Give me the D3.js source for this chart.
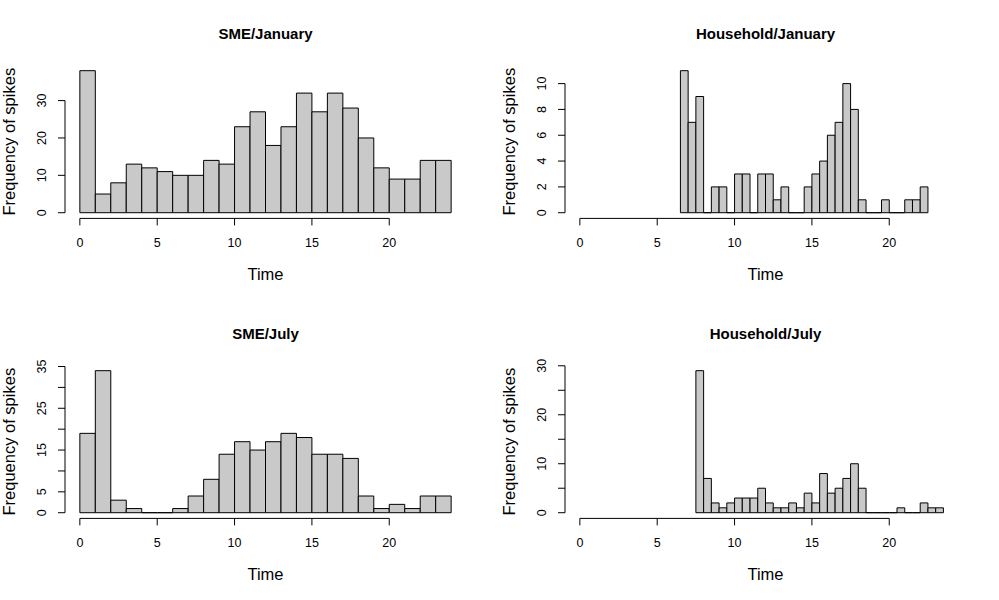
<!DOCTYPE html>
<html>
<head>
<meta charset="utf-8">
<title>Frequency of spikes</title>
<script src="https://cdn.jsdelivr.net/npm/d3@7"></script>
<style>
  body { margin: 0; background: #fff; }
  text { font-family: "Liberation Sans", Arial, Helvetica, sans-serif; fill: #000; }
</style>
</head>
<body>
<div id="chart"></div>
<script>
// counts per bin
var smeJan = [38, 5, 8, 13, 12, 11, 10, 10, 14, 13, 23, 27, 18, 23, 32, 27, 32, 28, 20, 12, 9, 9, 14, 14];
var smeJul = [19, 34, 3, 1, 0, 0, 1, 4, 8, 14, 17, 15, 17, 19, 18, 14, 14, 13, 4, 1, 2, 1, 4, 4];
var hhJan = [11, 7, 9, 0, 2, 2, 0, 3, 3, 0, 3, 3, 1, 2, 0, 0, 2, 3, 4, 6, 7, 10, 8, 1, 0, 0, 1, 0, 0, 1, 1, 2];
var hhJul = [29, 7, 2, 1, 2, 3, 3, 3, 5, 2, 1, 1, 2, 1, 4, 2, 8, 4, 5, 7, 10, 5, 0, 0, 0, 0, 1, 0, 0, 2, 1, 1];

// first break and bin width of each histogram
var smeStart = 0, smeWidth = 1;
var hhJanStart = 6.5, hhJulStart = 7.5, hhWidth = 0.5;

var titles = ["SME/January", "Household/January", "SME/July", "Household/July"];
var xTicks = [0, 5, 10, 15, 20];
var yTicks = [[0, 10, 20, 30], [0, 2, 4, 6, 8, 10], [0, 5, 10, 15, 20, 25, 30, 35], [0, 5, 10, 15, 20, 25, 30]];
var yLabels = [[0, 10, 20, 30], [0, 2, 4, 6, 8, 10], [0, 5, 15, 25, 35], [0, 10, 20, 30]];
var xLabel = "Time", yLabel = "Frequency of spikes";

var panels = [
  { counts: smeJan, start: smeStart, width: smeWidth, col: 0, row: 0 },
  { counts: hhJan, start: hhJanStart, width: hhWidth, col: 1, row: 0 },
  { counts: smeJul, start: smeStart, width: smeWidth, col: 0, row: 1 },
  { counts: hhJul, start: hhJulStart, width: hhWidth, col: 1, row: 1 }
];

var W = 999, H = 600;
var colX = [65, 565], rowY = [65, 365];
var plotW = 401, plotH = 153.4;

var svg = d3.select("#chart").append("svg")
  .attr("width", W)
  .attr("height", H);

panels.forEach(function(p, i) {
  var x0 = colX[p.col], y0 = rowY[p.row];
  var ymax = d3.max(p.counts);
  var x = d3.scaleLinear().domain([-0.96, 24.96]).range([x0, x0 + plotW]);
  var y = d3.scaleLinear().domain([-0.04 * ymax, 1.04 * ymax]).range([y0 + plotH, y0]);
  var g = svg.append("g");

  // bars (paths so that empty bins still show as a line)
  g.selectAll("path.bar")
    .data(p.counts)
    .enter().append("path")
    .attr("class", "bar")
    .attr("d", function(d, j) {
      var a = x(p.start + j * p.width), b = x(p.start + (j + 1) * p.width);
      return "M" + a + "," + y(0) + "V" + y(d) + "H" + b + "V" + y(0) + "Z";
    })
    .attr("fill", "#c9c9c9")
    .attr("stroke", "#000")
    .attr("stroke-width", 1);

  // x axis, R style
  var by = y0 + plotH;
  g.append("line")
    .attr("x1", x(xTicks[0])).attr("x2", x(xTicks[xTicks.length - 1]))
    .attr("y1", by).attr("y2", by)
    .attr("stroke", "#000");
  g.selectAll("line.xt").data(xTicks).enter().append("line")
    .attr("x1", function(d) { return x(d); }).attr("x2", function(d) { return x(d); })
    .attr("y1", by).attr("y2", by + 7)
    .attr("stroke", "#000");
  g.selectAll("text.xt").data(xTicks).enter().append("text")
    .attr("x", function(d) { return x(d); })
    .attr("y", by + 29)
    .attr("text-anchor", "middle")
    .attr("font-size", 12.5)
    .text(function(d) { return d; });

  // y axis
  var yt = yTicks[i];
  g.append("line")
    .attr("x1", x0).attr("x2", x0)
    .attr("y1", y(yt[0])).attr("y2", y(yt[yt.length - 1]))
    .attr("stroke", "#000");
  g.selectAll("line.yt").data(yt).enter().append("line")
    .attr("x1", x0).attr("x2", x0 - 7)
    .attr("y1", function(d) { return y(d); }).attr("y2", function(d) { return y(d); })
    .attr("stroke", "#000");
  g.selectAll("text.yt").data(yLabels[i]).enter().append("text")
    .attr("transform", function(d) { return "translate(" + (x0 - 19) + "," + y(d) + ") rotate(-90)"; })
    .attr("text-anchor", "middle")
    .attr("font-size", 12.5)
    .text(function(d) { return d; });

  // titles
  g.append("text")
    .attr("x", x0 + plotW / 2)
    .attr("y", y0 - 26.5)
    .attr("text-anchor", "middle")
    .attr("font-size", 15)
    .attr("font-weight", "bold")
    .text(titles[i]);
  g.append("text")
    .attr("x", x0 + plotW / 2)
    .attr("y", by + 62)
    .attr("text-anchor", "middle")
    .attr("font-size", 16.5)
    .text(xLabel);
  g.append("text")
    .attr("transform", "translate(" + (x0 - 50) + "," + (y0 + plotH / 2) + ") rotate(-90)")
    .attr("text-anchor", "middle")
    .attr("font-size", 16.5)
    .text(yLabel);
});
</script>
</body>
</html>
